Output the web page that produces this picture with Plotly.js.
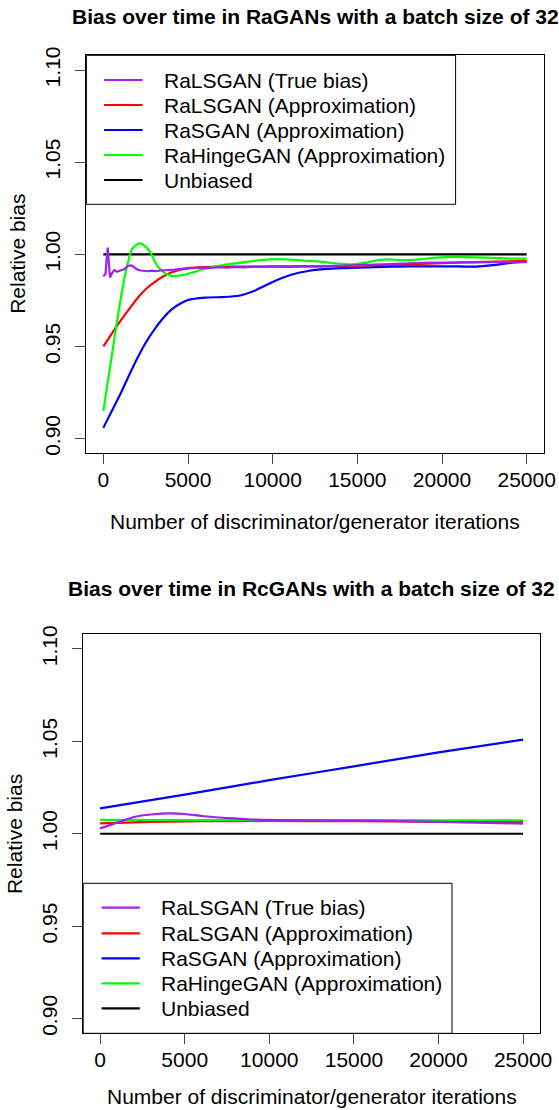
<!DOCTYPE html>
<html><head><meta charset="utf-8">
<script src="https://cdn.plot.ly/plotly-3.0.1.min.js"></script>
<style>html,body{margin:0;padding:0;background:#fff;} #chart{width:559px;height:1110px;}</style>
</head><body><div id="chart"></div>
<script>
// ---------- data ----------
const seriesNames = ["RaLSGAN (True bias)", "RaLSGAN (Approximation)", "RaSGAN (Approximation)", "RaHingeGAN (Approximation)", "Unbiased"];
const seriesColors = ["#A020F0", "#FF0000", "#0000FF", "#00FF00", "#000000"];

const xTicks = [0, 5000, 10000, 15000, 20000, 25000];
const xTickText = ["0", "5000", "10000", "15000", "20000", "25000"];
const yTicks = [0.90, 0.95, 1.00, 1.05, 1.10];
const yTickText = ["0.90", "0.95", "1.00", "1.05", "1.10"];

// Plot 1: RaGANs
const ra_true_x = [0,130,200,260,320,396,500,650,800,950,1100,1250,1440,1670,1850,1970,2200,2400,2650,2850,3100,3400,3800,4200,4600,5000,5500,5800,6300,6900,7300,7800,8300,8900,9500,10200,11000,11800,12800,13600,14500,15300,16200,17000,17800,18700,19600,20500,21400,22300,23200,24100,25000];
const ra_true_y = [0.9880,0.9895,0.9980,1.0036,0.9960,0.9874,0.9895,0.9915,0.9905,0.9912,0.9915,0.9920,0.9937,0.9940,0.9930,0.9919,0.9912,0.9910,0.9908,0.9911,0.9909,0.9912,0.9913,0.9917,0.9921,0.9924,0.9925,0.9928,0.9926,0.9930,0.9927,0.9931,0.9929,0.9933,0.9931,0.9935,0.9932,0.9936,0.9935,0.9938,0.9940,0.9943,0.9945,0.9948,0.9950,0.9953,0.9952,0.9955,0.9956,0.9955,0.9957,0.9958,0.9958];

const ra_ls_x = [0,500,1000,1500,2000,2500,3000,3500,4000,5000,6000,8000,10000,12500,15000,17500,20000,22500,25000];
const ra_ls_y = [0.9500,0.9570,0.9637,0.9700,0.9760,0.9810,0.9848,0.9878,0.9901,0.9925,0.9931,0.9933,0.9934,0.9935,0.9938,0.9944,0.9952,0.9959,0.9964];

const ra_s_x = [0,500,1000,1500,2000,2500,3000,3500,4000,4500,5000,6000,7000,8000,9000,10000,11000,12000,13000,14000,15000,17000,19000,21000,22000,23000,24000,25000];
const ra_s_y = [0.9058,0.9150,0.9240,0.9340,0.9435,0.9520,0.9590,0.9650,0.9698,0.9730,0.9752,0.9765,0.9768,0.9775,0.9805,0.9850,0.9886,0.9908,0.9919,0.9925,0.9927,0.9933,0.9935,0.9934,0.9933,0.9941,0.9953,0.9961];

const ra_h_x = [0,500,900,1300,1700,2100,2300,2700,3200,3700,4200,4700,5200,6000,6800,7800,8800,9800,10800,11800,12800,13800,14700,15400,16200,16800,17700,18700,19700,20700,22600,24000,25000];
const ra_h_y = [0.9150,0.9450,0.9690,0.9895,1.0030,1.0059,1.0055,1.0022,0.9935,0.9893,0.9882,0.9888,0.9900,0.9920,0.9937,0.9951,0.9963,0.9972,0.9973,0.9966,0.9960,0.9950,0.9946,0.9953,0.9968,0.9973,0.9968,0.9973,0.9982,0.9986,0.9982,0.9977,0.9976];

const unb_x = [0, 25000];
const unb_y = [1.0, 1.0];

// Plot 2: RcGANs
const rc_true_x = [0,1000,2070,3000,4140,5000,6000,7000,8000,9000,10900,13000,16900,20000,24500,25000];
const rc_true_y = [1.0029,1.0060,1.0092,1.0104,1.0110,1.0107,1.0096,1.0088,1.0083,1.0077,1.0074,1.0072,1.0070,1.0064,1.0056,1.0055];

const rc_ls_x = [0,2000,4000,6000,10000,15000,20000,25000];
const rc_ls_y = [1.0056,1.0062,1.0066,1.0068,1.0069,1.0068,1.0066,1.0063];

const rc_s_x = [0,5000,10000,15000,20000,25000];
const rc_s_y = [1.0137,1.0212,1.0290,1.0365,1.0440,1.0509];

const rc_h_x = [0,5000,10000,15000,20000,25000];
const rc_h_y = [1.0075,1.0074,1.0074,1.0074,1.0073,1.0073];

const titles = ["Bias over time in RaGANs with a batch size of 32", "Bias over time in RcGANs with a batch size of 32"];
const xTitle = "Number of discriminator/generator iterations";
const yTitle = "Relative bias";

// ---------- layout helpers ----------
const W = 559, H = 1110;
const FONT = "Liberation Sans, Arial, Helvetica, sans-serif";
const px = v => v / W;
const py = v => 1 - v / H;

function line(x, y, i, xa, ya, spline) {
  return {x, y, type: "scatter", mode: "lines", name: seriesNames[i], xaxis: xa, yaxis: ya,
    line: {color: seriesColors[i], width: 2.2, shape: spline ? "spline" : "linear", smoothing: 0.6},
    showlegend: false, hoverinfo: "skip"};
}

const traces = [
  line(unb_x, unb_y, 4, "x", "y", false),
  line(ra_s_x, ra_s_y, 2, "x", "y", true),
  line(ra_ls_x, ra_ls_y, 1, "x", "y", true),
  line(ra_h_x, ra_h_y, 3, "x", "y", true),
  line(ra_true_x, ra_true_y, 0, "x", "y", false),
  line(unb_x, unb_y, 4, "x2", "y2", false),
  line(rc_s_x, rc_s_y, 2, "x2", "y2", true),
  line(rc_ls_x, rc_ls_y, 1, "x2", "y2", true),
  line(rc_h_x, rc_h_y, 3, "x2", "y2", true),
  line(rc_true_x, rc_true_y, 0, "x2", "y2", true)
];

// plot frames (pixels)
const frames = [
  {l: 86.4, r: 543.6, t: 55.3, b: 453.3},
  {l: 83.2, r: 540.0, t: 634.2, b: 1033.3}
];

function xAxis(f, anchor) {
  return {domain: [px(f.l), px(f.r)], anchor, range: [-1000, 26000],
    tickmode: "array", tickvals: xTicks, ticktext: xTickText,
    ticks: "outside", ticklen: 10, tickwidth: 1, tickcolor: "#444",
    showline: true, mirror: true, linecolor: "#000", linewidth: 1,
    showgrid: false, zeroline: false, automargin: false, fixedrange: true,
    tickfont: {family: FONT, size: 21, color: "#000"}, ticklabelstandoff: -3};
}
function yAxis(f, anchor) {
  return {domain: [py(f.b), py(f.t)], anchor, range: [0.892, 1.108],
    tickmode: "array", tickvals: yTicks, ticktext: yTickText, tickangle: -90,
    ticks: "outside", ticklen: 10, tickwidth: 1, tickcolor: "#444",
    showline: true, mirror: true, linecolor: "#000", linewidth: 1,
    showgrid: false, zeroline: false, automargin: false, fixedrange: true,
    tickfont: {family: FONT, size: 21, color: "#000"}, ticklabelstandoff: 7};
}

// legends (pixel layout)
const legends = [
  {box: [86.4, 55.3, 455.6, 204.3], lx: [104.1, 142.6], tx: 162.2, rows: [80, 105, 130, 155, 180]},
  {box: [83.2, 883.3, 452.0, 1033.3], lx: [101.6, 139.8], tx: 158.6, rows: [907.7, 933.3, 958.3, 983.3, 1008.3]}
];

const shapes = [];
const annotations = [];
legends.forEach(L => {
  shapes.push({type: "rect", xref: "paper", yref: "paper", layer: "above",
    x0: px(L.box[0]), x1: px(L.box[2]), y0: py(L.box[3]), y1: py(L.box[1]),
    line: {color: "#000", width: 1}, fillcolor: "#fff"});
  seriesNames.forEach((nm, i) => {
    shapes.push({type: "line", xref: "paper", yref: "paper", layer: "above",
      x0: px(L.lx[0]), x1: px(L.lx[1]), y0: py(L.rows[i]), y1: py(L.rows[i]),
      line: {color: seriesColors[i], width: 2.2}});
    annotations.push({xref: "paper", yref: "paper", x: px(L.tx), y: py(L.rows[i]),
      xanchor: "left", yanchor: "middle", showarrow: false, text: nm,
      font: {family: FONT, size: 21, color: "#000"}});
  });
});

const titleY = [16.7, 588.3];
const xTitleY = [521.7, 1096];
const yTitleX = [17.5, 14.3];
frames.forEach((f, k) => {
  annotations.push({xref: "paper", yref: "paper", x: px((f.l + f.r) / 2), y: py(titleY[k]),
    xanchor: "center", yanchor: "middle", showarrow: false, text: titles[k],
    font: {family: FONT, size: 21, color: "#000", weight: "bold"}});
  annotations.push({xref: "paper", yref: "paper", x: px((f.l + f.r) / 2), y: py(xTitleY[k]),
    xanchor: "center", yanchor: "middle", showarrow: false, text: xTitle,
    font: {family: FONT, size: 21, color: "#000"}});
  annotations.push({xref: "paper", yref: "paper", x: px(yTitleX[k]), y: py((f.t + f.b) / 2),
    xanchor: "center", yanchor: "middle", showarrow: false, text: yTitle, textangle: -90,
    font: {family: FONT, size: 21, color: "#000"}});
});

const layout = {
  width: W, height: H, margin: {l: 0, r: 0, t: 0, b: 0},
  paper_bgcolor: "#fff", plot_bgcolor: "#fff", showlegend: false,
  xaxis: xAxis(frames[0], "y"), yaxis: yAxis(frames[0], "x"),
  xaxis2: xAxis(frames[1], "y2"), yaxis2: yAxis(frames[1], "x2"),
  shapes, annotations
};

Plotly.newPlot("chart", traces, layout, {staticPlot: true, displayModeBar: false});
</script>
</body></html>
